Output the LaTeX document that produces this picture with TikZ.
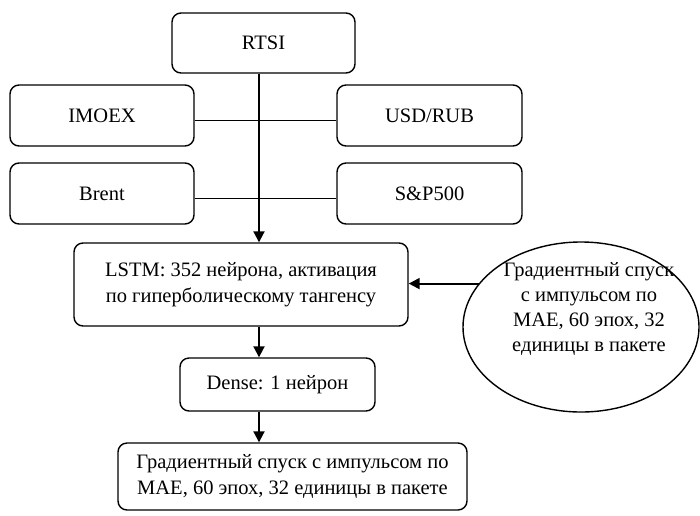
\documentclass[tikz,border=0pt]{standalone}
\usepackage{fontspec}
\setmainfont{Liberation Serif}
\usetikzlibrary{shapes.geometric,arrows.meta}
\begin{document}
\begin{tikzpicture}[x=1pt,y=-1pt,
  font=\fontsize{20.5}{26}\selectfont,
  box/.style={draw, line width=1.4pt, rounded corners=9pt, align=center, inner sep=0pt},
  arr/.style={-{Triangle[length=11pt,width=11pt]}, line width=2pt},
  ln/.style={line width=1.3pt}]
\useasboundingbox (0,0) rectangle (700,515);
\coordinate (ax) at (259,0);
\node[box, minimum width=183pt, minimum height=60pt] (rtsi) at (263.5,43) {RTSI};
\node[box, minimum width=184pt, minimum height=61pt] (imoex) at (102,115.5) {IMOEX};
\node[box, minimum width=185pt, minimum height=61pt] (usd) at (429.5,115.5) {USD/RUB};
\node[box, minimum width=184pt, minimum height=61pt] (brent) at (102,193.5) {Brent};
\node[box, minimum width=185pt, minimum height=61pt] (sp) at (429.5,193.5) {S\&P500};
\node[box, minimum width=334pt, minimum height=83pt] (lstm) at (241,284.5) {LSTM: 352 нейрона, активация\\по гиперболическому тангенсу};
\node[draw, ellipse, line width=1.4pt, minimum width=236pt, minimum height=170pt, inner sep=0pt] (ell) at (581,327) {};
\node[align=center, inner sep=0pt, font=\fontsize{20.5}{25}\selectfont] (ellt) at ([xshift=8pt,yshift=18pt]ell.center) {Градиентный спуск\\с импульсом по\\MAE, 60 эпох, 32\\единицы в пакете};
\node[box, minimum width=195pt, minimum height=53pt] (dense) at (277.5,384.5) {Dense: 1 нейрон};
\node[box, minimum width=349pt, minimum height=67pt] (bot) at (292.5,476.5) {Градиентный спуск с импульсом по\\MAE, 60 эпох, 32 единицы в пакете};
\draw[ln] ([yshift=-5pt]imoex.east) -- ([yshift=-5pt]usd.west);
\draw[ln] ([yshift=-5pt]brent.east) -- ([yshift=-5pt]sp.west);
\draw[arr] (rtsi.south -| ax) -- (lstm.north -| ax);
\draw[arr] (lstm.south -| ax) -- (dense.north -| ax);
\draw[arr] (dense.south -| ax) -- (bot.north -| ax);
\draw[arr] (ell.157) -- (ell.157 -| lstm.east);
\end{tikzpicture}
\end{document}
